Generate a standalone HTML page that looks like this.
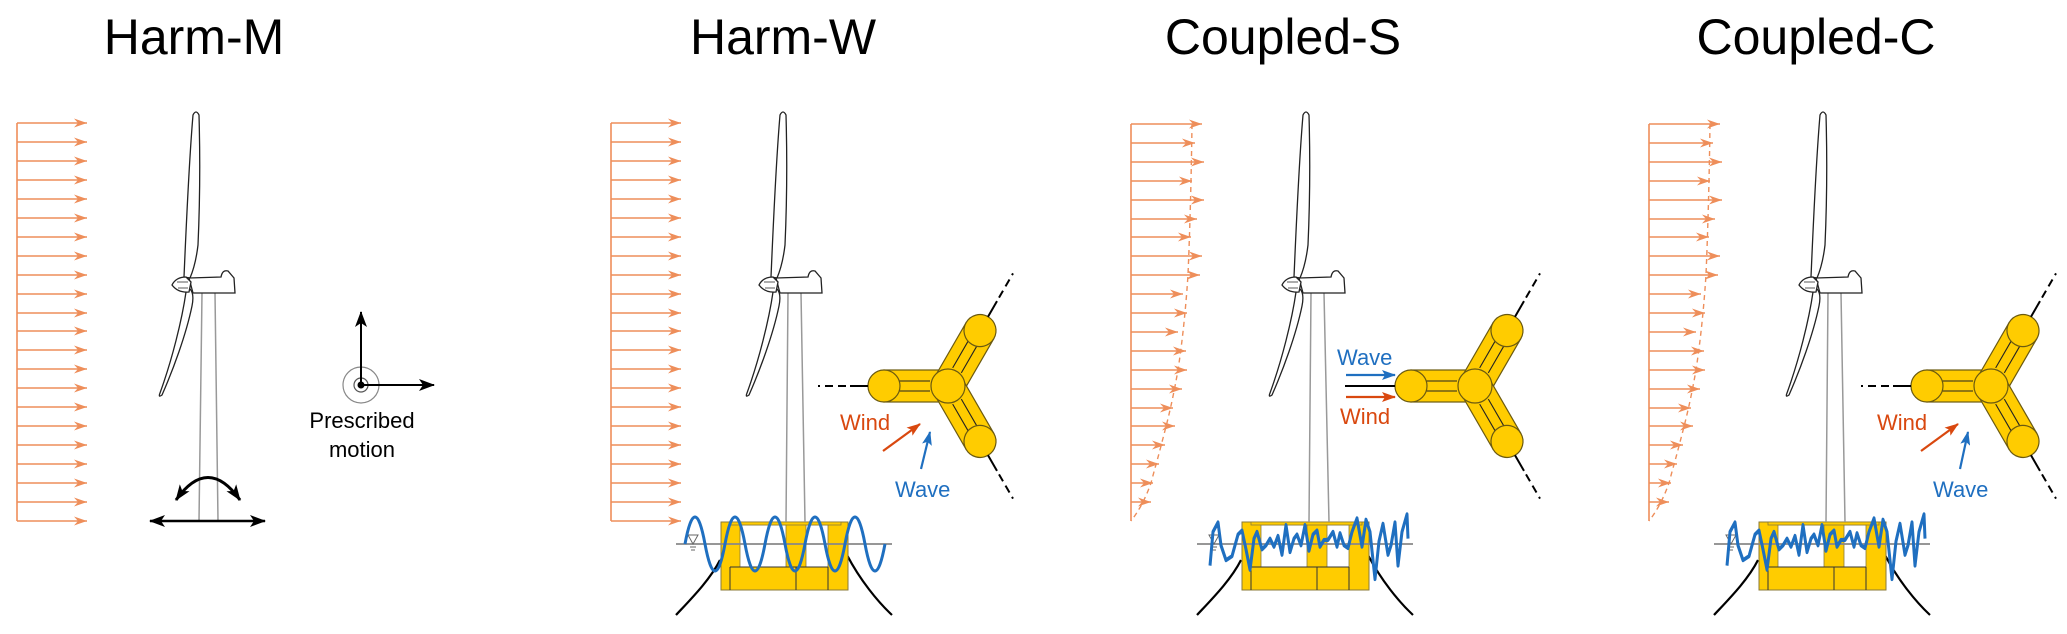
<!DOCTYPE html>
<html><head><meta charset="utf-8"><style>html,body{margin:0;padding:0;background:#fff}svg{display:block}</style></head>
<body>
<svg width="2067" height="634" viewBox="0 0 2067 634" xmlns="http://www.w3.org/2000/svg" font-family="Liberation Sans, Arial, sans-serif">
<defs>
<marker id="mo" markerUnits="userSpaceOnUse" markerWidth="14" markerHeight="10" refX="13" refY="5" orient="auto"><path d="M0,0.5 L13,5 L0,9.5 L4,5 z" fill="#EE8E5A"/></marker>
<marker id="mk" markerUnits="userSpaceOnUse" markerWidth="16" markerHeight="12" refX="15" refY="6" orient="auto"><path d="M0,0 L16,6 L0,12 L4,6 z" fill="#000"/></marker>
<marker id="mk2" markerUnits="userSpaceOnUse" markerWidth="16" markerHeight="12" refX="1" refY="6" orient="auto"><path d="M16,0 L0,6 L16,12 L12,6 z" fill="#000"/></marker>
<marker id="mr" markerUnits="userSpaceOnUse" markerWidth="14" markerHeight="10" refX="13" refY="5" orient="auto"><path d="M0,0 L14,5 L0,10 L3,5 z" fill="#D9480F"/></marker>
<marker id="mb" markerUnits="userSpaceOnUse" markerWidth="14" markerHeight="10" refX="13" refY="5" orient="auto"><path d="M0,0 L14,5 L0,10 L3,5 z" fill="#1F6FC0"/></marker>

<g id="turb" fill="#fff" stroke="#222" stroke-width="1.3">
<path d="M184,277 C186,230 190,150 193,115 Q196,109 199,115 C200,150 200,200 198,245 C196,262 193,271 190,278 Z"/>
<path d="M186,292 C182,320 172,360 160,393 Q158,398 162,395 C173,370 186,335 192,306 C194,296 192,291 190,289 Z"/>
<path d="M189,278 L221,277 C222,272 224,270 228,271 L234,278 L235,293 L193,293 Z"/>
<path d="M172,285 Q176,277 186,277 L191,282 L189,292 Q178,293 172,285 Z"/>
<path d="M177,282 L188,282 M178,288 L188,288" stroke-width="0.8"/>
</g>

<g id="plat">
<rect x="0" y="0" width="127" height="68" fill="#FFCC00" stroke="#8a7a3a" stroke-width="1"/>
<rect x="19" y="3" width="46" height="42" fill="#fff" stroke="#8a7a3a" stroke-width="0.8"/>
<rect x="85" y="3" width="22" height="42" fill="#fff" stroke="#8a7a3a" stroke-width="0.8"/>
<rect x="9" y="0" width="111" height="3" fill="#FFCC00" stroke="#8a7a3a" stroke-width="0.8"/>
<path d="M9,45 L107,45 M9,45 L9,68 M75,45 L75,68 M107,45 L107,68" stroke="#333" stroke-width="1" fill="none"/>
</g>

<g id="arm">
<rect x="0" y="-16" width="64" height="32" fill="#FFCC00" stroke="#6b5a10" stroke-width="1.2"/>
<path d="M18,-5 L50,-5 M18,5 L50,5" stroke="#222" stroke-width="1.1"/>
<circle cx="64" cy="0" r="16" fill="#FFCC00" stroke="#6b5a10" stroke-width="1.2"/>
<path d="M80,0 L98,0" stroke="#000" stroke-width="2"/>
<path d="M102,0 L130,0" stroke="#000" stroke-width="2" stroke-dasharray="8,5"/>
</g>
<g id="top">
<use href="#arm" transform="rotate(180)"/>
<use href="#arm" transform="rotate(-60)"/>
<use href="#arm" transform="rotate(60)"/>
<circle cx="0" cy="0" r="17" fill="#FFCC00" stroke="#6b5a10" stroke-width="1.2"/>
</g>

<g id="uni" stroke="#EE8E5A" stroke-width="1.6" fill="none">
<path d="M0,123 L0,521"/>
<g marker-end="url(#mo)">
<path d="M0,123 h70"/><path d="M0,142 h70"/><path d="M0,161 h70"/><path d="M0,180 h70"/><path d="M0,199 h70"/><path d="M0,218 h70"/><path d="M0,237 h70"/><path d="M0,256 h70"/><path d="M0,275 h70"/><path d="M0,294 h70"/><path d="M0,313 h70"/><path d="M0,331 h70"/><path d="M0,350 h70"/><path d="M0,369 h70"/><path d="M0,388 h70"/><path d="M0,407 h70"/><path d="M0,426 h70"/><path d="M0,445 h70"/><path d="M0,464 h70"/><path d="M0,483 h70"/><path d="M0,502 h70"/><path d="M0,521 h70"/>
</g>
</g>
<g id="shear" stroke="#EE8E5A" stroke-width="1.6" fill="none">
<path d="M0,124 L0,521"/>
<path d="M61,124 C60,200 58,250 57,275 C54,320 50,350 47,370 C40,410 34,430 30,446 C25,465 22,475 20,483 C14,500 7,512 0,521" stroke-dasharray="5,4" stroke-width="1.4"/>
<g marker-end="url(#mo)">
<path d="M0,124 h71"/><path d="M0,143 h64"/><path d="M0,162 h73"/><path d="M0,181 h61"/><path d="M0,200 h73"/><path d="M0,219 h66"/><path d="M0,237 h60"/><path d="M0,256 h71"/><path d="M0,275 h69"/><path d="M0,294 h52"/><path d="M0,313 h56"/><path d="M0,332 h47"/><path d="M0,351 h55"/><path d="M0,370 h56"/><path d="M0,389 h51"/><path d="M0,408 h42"/><path d="M0,426 h44"/><path d="M0,445 h34"/><path d="M0,464 h28"/><path d="M0,483 h22"/><path d="M0,502 h20"/>
</g>
</g>
<polyline id="irr" fill="none" stroke="#1F6FC0" stroke-width="3" stroke-linejoin="round" transform="translate(0,22) scale(1,1.35) translate(0,-22)" points="-32,38 -29,13 -24,6 -21,23 -16,34 -10,31 -4,15 0,12 4,26 8,41 12,18 15,13 20,26 24,23 28,18 32,24 36,16 40,30 44,8 48,28 52,18 55,15 59,23 63,8 67,27 71,15 75,12 78,24 82,19 86,19 91,13 95,24 98,14 102,23 106,25 110,13 115,3 120,24 124,4 128,13 133,48 137,20 141,7 146,30 149,23 153,6 156,38 160,13 165,0 166,18"/>
<g id="sv" fill="none">
<path d="M-45,93 C-31,78 -11,58 -1,38" stroke="#000" stroke-width="2.2"/>
<path d="M126,33 C139,58 157,80 171,93" stroke="#000" stroke-width="2.2"/>
</g>
<g id="wl">
<path d="M-45,22 L171,22" stroke="#888" stroke-width="1.8"/>
<path d="M-33,13 L-23,13 L-28,22 Z M-31,25 L-25,25 M-30,28 L-26,28" stroke="#666" stroke-width="1" fill="none"/>
</g>
</defs>

<!-- titles -->
<g font-size="50" text-anchor="middle" fill="#000">
<text x="194" y="54">Harm-M</text>
<text x="783" y="54">Harm-W</text>
<text x="1283" y="54">Coupled-S</text>
<text x="1816" y="54">Coupled-C</text>
</g>

<!-- Panel 1 -->
<use href="#uni" transform="translate(17,0)"/>
<path d="M202,293 L199,521 M215,293 L218,521" stroke="#999" stroke-width="1.5"/>
<use href="#turb"/>
<path d="M176,500 Q208,455 240,500" stroke="#000" stroke-width="3" fill="none" marker-start="url(#mk2)" marker-end="url(#mk)"/>
<path d="M150,521 L265,521" stroke="#000" stroke-width="2.5" marker-start="url(#mk2)" marker-end="url(#mk)"/>
<circle cx="361" cy="385" r="18" fill="none" stroke="#888" stroke-width="1.2"/>
<circle cx="361" cy="385" r="7" fill="none" stroke="#555" stroke-width="1.2"/>
<circle cx="361" cy="385" r="3.5" fill="#000"/>
<path d="M361,385 L361,312" stroke="#000" stroke-width="2" marker-end="url(#mk)"/>
<path d="M361,385 L434,385" stroke="#000" stroke-width="2" marker-end="url(#mk)"/>
<text x="362" y="428" font-size="22" text-anchor="middle">Prescribed</text>
<text x="362" y="457" font-size="22" text-anchor="middle">motion</text>

<!-- Panel 2 -->
<use href="#uni" transform="translate(611,0)"/>
<use href="#sv" transform="translate(721,522)"/>
<use href="#plat" transform="translate(721,522)"/>
<path d="M788,293 L786,522 M801,293 L805,522" stroke="#999" stroke-width="1.5"/>
<use href="#turb" transform="translate(587,0)"/>
<use href="#wl" transform="translate(721,522)"/>
<path d="M685,544 q10,-54 20,0 t20,0 t20,0 t20,0 t20,0 t20,0 t20,0 t20,0 t20,0 t20,0" fill="none" stroke="#1F6FC0" stroke-width="3"/>
<use href="#top" transform="translate(948,386)"/>
<text x="840" y="430" font-size="22" fill="#D9480F">Wind</text>
<path d="M883,451 L920,424" stroke="#D9480F" stroke-width="2.2" marker-end="url(#mr)"/>
<text x="895" y="497" font-size="22" fill="#1F6FC0">Wave</text>
<path d="M921,469 L930,432" stroke="#1F6FC0" stroke-width="2.2" marker-end="url(#mb)"/>

<!-- Panel 3 -->
<use href="#shear" transform="translate(1131,0)"/>
<use href="#sv" transform="translate(1242,522)"/>
<use href="#plat" transform="translate(1242,522)"/>
<path d="M1311,293 L1309,522 M1324,293 L1329,522" stroke="#999" stroke-width="1.5"/>
<use href="#turb" transform="translate(1110,0)"/>
<use href="#wl" transform="translate(1242,522)"/>
<use href="#irr" transform="translate(1242,522)"/>
<use href="#top" transform="translate(1475,386)"/>
<text x="1337" y="365" font-size="22" fill="#1F6FC0">Wave</text>
<path d="M1346,375 L1395,375" stroke="#1F6FC0" stroke-width="2.2" marker-end="url(#mb)"/>
<path d="M1345,386 L1395,386" stroke="#000" stroke-width="2" stroke-dasharray="8,5"/>
<path d="M1346,397 L1395,397" stroke="#D9480F" stroke-width="2.2" marker-end="url(#mr)"/>
<text x="1340" y="424" font-size="22" fill="#D9480F">Wind</text>

<!-- Panel 4 -->
<use href="#shear" transform="translate(1649,0)"/>
<use href="#sv" transform="translate(1759,522)"/>
<use href="#plat" transform="translate(1759,522)"/>
<path d="M1828,293 L1826,522 M1841,293 L1845,522" stroke="#999" stroke-width="1.5"/>
<use href="#turb" transform="translate(1627,0)"/>
<use href="#wl" transform="translate(1759,522)"/>
<use href="#irr" transform="translate(1759,522)"/>
<use href="#top" transform="translate(1991,386)"/>
<text x="1877" y="430" font-size="22" fill="#D9480F">Wind</text>
<path d="M1921,451 L1958,424" stroke="#D9480F" stroke-width="2.2" marker-end="url(#mr)"/>
<text x="1933" y="497" font-size="22" fill="#1F6FC0">Wave</text>
<path d="M1960,469 L1968,432" stroke="#1F6FC0" stroke-width="2.2" marker-end="url(#mb)"/>
</svg>
</body></html>
